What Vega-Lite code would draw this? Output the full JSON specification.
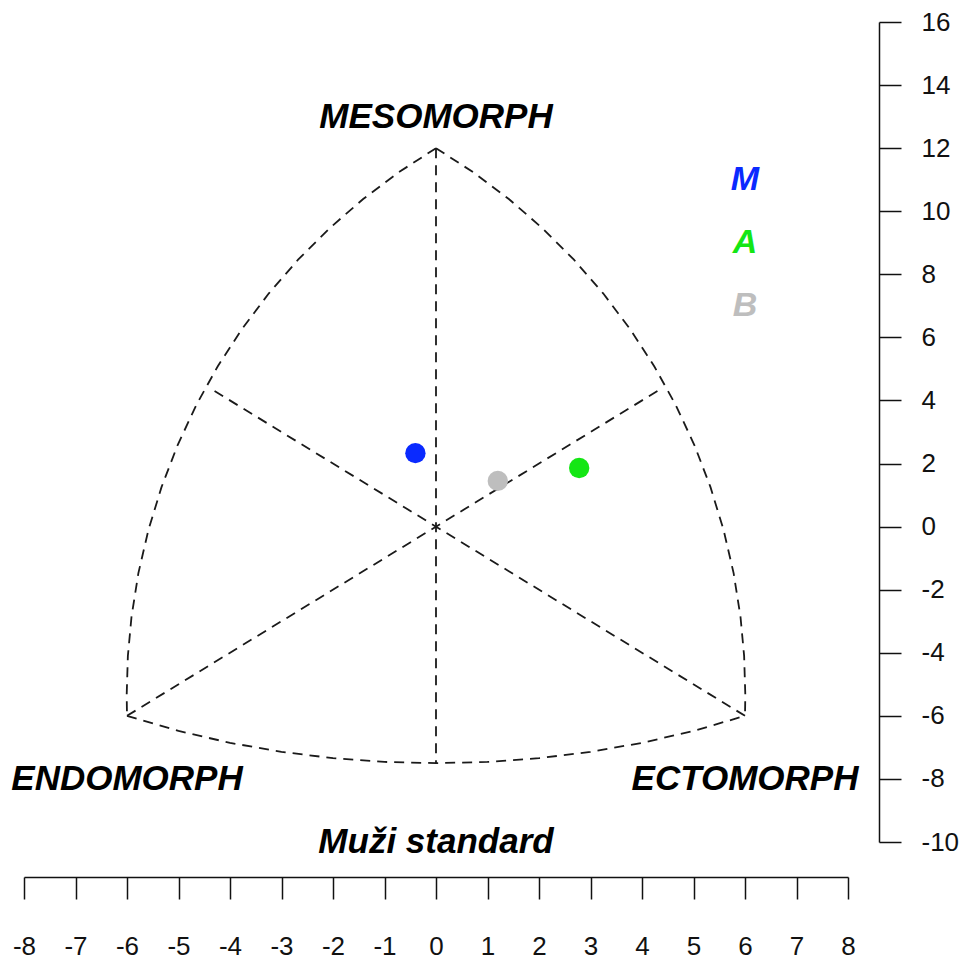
{
  "$schema": "https://vega.github.io/schema/vega-lite/v6.json",
  "width": 824,
  "height": 820,
  "autosize": {"type": "none"},
  "padding": {"left": 24, "top": 22, "right": 116, "bottom": 116},
  "background": "white",
  "config": {"view": {"stroke": null}, "font": "Liberation Sans"},
  "encoding": {
    "x": {"field": "x", "type": "quantitative",
      "scale": {"domain": [-8, 8], "nice": false, "zero": false},
      "axis": {"orient": "bottom", "offset": 35, "values": [-8,-7,-6,-5,-4,-3,-2,-1,0,1,2,3,4,5,6,7,8],
        "labelExpr": "'' + datum.value",
        "tickSize": 22, "tickWidth": 1.5, "tickColor": "#111", "domainColor": "#111", "domainWidth": 1.5,
        "labelFont": "Liberation Sans", "labelFontSize": 26, "labelColor": "#111", "labelPadding": 34,
        "grid": false, "title": null, "labelFlush": false, "labelOverlap": false}},
    "y": {"field": "y", "type": "quantitative",
      "scale": {"domain": [-10, 16], "nice": false, "zero": false},
      "axis": {"orient": "right", "offset": 31, "values": [-10,-8,-6,-4,-2,0,2,4,6,8,10,12,14,16],
        "labelExpr": "'' + datum.value",
        "tickSize": 22, "tickWidth": 1.5, "tickColor": "#111", "domainColor": "#111", "domainWidth": 1.5,
        "labelFont": "Liberation Sans", "labelFontSize": 26, "labelColor": "#111", "labelPadding": 20,
        "grid": false, "title": null, "labelFlush": false, "labelOverlap": false}}
  },
  "layer": [
    {
      "data": {"values": [
        {"seg": "v", "i": 0, "x": 0, "y": 12},
        {"seg": "v", "i": 1, "x": 0, "y": -7.5},
        {"seg": "d1", "i": 0, "x": -6, "y": -6},
        {"seg": "d1", "i": 1, "x": 4.4, "y": 4.4},
        {"seg": "d2", "i": 0, "x": 6, "y": -6},
        {"seg": "d2", "i": 1, "x": -4.4, "y": 4.4},
        {"seg": "r", "i": 0, "x": 0, "y": 12},
        {"seg": "r", "i": 1, "x": 0.722, "y": 11.237},
        {"seg": "r", "i": 2, "x": 1.414, "y": 10.387},
        {"seg": "r", "i": 3, "x": 2.066, "y": 9.461},
        {"seg": "r", "i": 4, "x": 2.678, "y": 8.462},
        {"seg": "r", "i": 5, "x": 3.245, "y": 7.397},
        {"seg": "r", "i": 6, "x": 3.765, "y": 6.268},
        {"seg": "r", "i": 7, "x": 4.237, "y": 5.086},
        {"seg": "r", "i": 8, "x": 4.656, "y": 3.852},
        {"seg": "r", "i": 9, "x": 5.021, "y": 2.571},
        {"seg": "r", "i": 10, "x": 5.33, "y": 1.252},
        {"seg": "r", "i": 11, "x": 5.583, "y": -0.098},
        {"seg": "r", "i": 12, "x": 5.779, "y": -1.474},
        {"seg": "r", "i": 13, "x": 5.913, "y": -2.866},
        {"seg": "r", "i": 14, "x": 5.983, "y": -4.1},
        {"seg": "r", "i": 15, "x": 6.006, "y": -5.333},
        {"seg": "r", "i": 16, "x": 6, "y": -6},
        {"seg": "l", "i": 0, "x": 0, "y": 12},
        {"seg": "l", "i": 1, "x": -0.722, "y": 11.237},
        {"seg": "l", "i": 2, "x": -1.414, "y": 10.387},
        {"seg": "l", "i": 3, "x": -2.066, "y": 9.461},
        {"seg": "l", "i": 4, "x": -2.678, "y": 8.462},
        {"seg": "l", "i": 5, "x": -3.245, "y": 7.397},
        {"seg": "l", "i": 6, "x": -3.765, "y": 6.268},
        {"seg": "l", "i": 7, "x": -4.237, "y": 5.086},
        {"seg": "l", "i": 8, "x": -4.656, "y": 3.852},
        {"seg": "l", "i": 9, "x": -5.021, "y": 2.571},
        {"seg": "l", "i": 10, "x": -5.33, "y": 1.252},
        {"seg": "l", "i": 11, "x": -5.583, "y": -0.098},
        {"seg": "l", "i": 12, "x": -5.779, "y": -1.474},
        {"seg": "l", "i": 13, "x": -5.913, "y": -2.866},
        {"seg": "l", "i": 14, "x": -5.983, "y": -4.1},
        {"seg": "l", "i": 15, "x": -6.006, "y": -5.333},
        {"seg": "l", "i": 16, "x": -6, "y": -6},
        {"seg": "b", "i": 0, "x": -6, "y": -6},
        {"seg": "b", "i": 1, "x": -5, "y": -6.479},
        {"seg": "b", "i": 2, "x": -4, "y": -6.856},
        {"seg": "b", "i": 3, "x": -3, "y": -7.142},
        {"seg": "b", "i": 4, "x": -2, "y": -7.342},
        {"seg": "b", "i": 5, "x": -1, "y": -7.461},
        {"seg": "b", "i": 6, "x": 0, "y": -7.5},
        {"seg": "b", "i": 7, "x": 1, "y": -7.461},
        {"seg": "b", "i": 8, "x": 2, "y": -7.342},
        {"seg": "b", "i": 9, "x": 3, "y": -7.142},
        {"seg": "b", "i": 10, "x": 4, "y": -6.856},
        {"seg": "b", "i": 11, "x": 5, "y": -6.479},
        {"seg": "b", "i": 12, "x": 6, "y": -6}
      ]},
      "mark": {"type": "line", "color": "#1a1a1a", "strokeWidth": 1.8, "strokeDash": [10, 7], "interpolate": "linear"},
      "encoding": {
        "detail": {"field": "seg", "type": "nominal"},
        "order": {"field": "i", "type": "quantitative"}
      }
    },
    {
      "data": {"values": [
        {"name": "M", "x": -0.4, "y": 2.33, "c": "#0a2aff"},
        {"name": "A", "x": 2.78, "y": 1.86, "c": "#14e614"},
        {"name": "B", "x": 1.2, "y": 1.45, "c": "#bebebe"}
      ]},
      "mark": {"type": "circle", "size": 415, "opacity": 1},
      "encoding": {
        "color": {"field": "c", "type": "nominal", "scale": null}
      }
    },
    {
      "data": {"values": [
        {"t": "M", "x": 6, "y": 11, "c": "#0a2aff"},
        {"t": "A", "x": 6, "y": 9, "c": "#14e614"},
        {"t": "B", "x": 6, "y": 7, "c": "#bebebe"}
      ]},
      "mark": {"type": "text", "font": "Liberation Sans", "fontSize": 34, "fontWeight": "bold", "fontStyle": "italic", "align": "center", "baseline": "middle"},
      "encoding": {
        "text": {"field": "t"},
        "color": {"field": "c", "type": "nominal", "scale": null}
      }
    },
    {
      "data": {"values": [
        {"t": "MESOMORPH", "x": 0, "y": 13},
        {"t": "ENDOMORPH", "x": -6, "y": -8},
        {"t": "ECTOMORPH", "x": 6, "y": -8},
        {"t": "Muži standard", "x": 0, "y": -10}
      ]},
      "mark": {"type": "text", "font": "Liberation Sans", "fontSize": 35, "fontWeight": "bold", "fontStyle": "italic", "align": "center", "baseline": "middle", "color": "#000"},
      "encoding": {
        "text": {"field": "t"}
      }
    }
  ]
}
